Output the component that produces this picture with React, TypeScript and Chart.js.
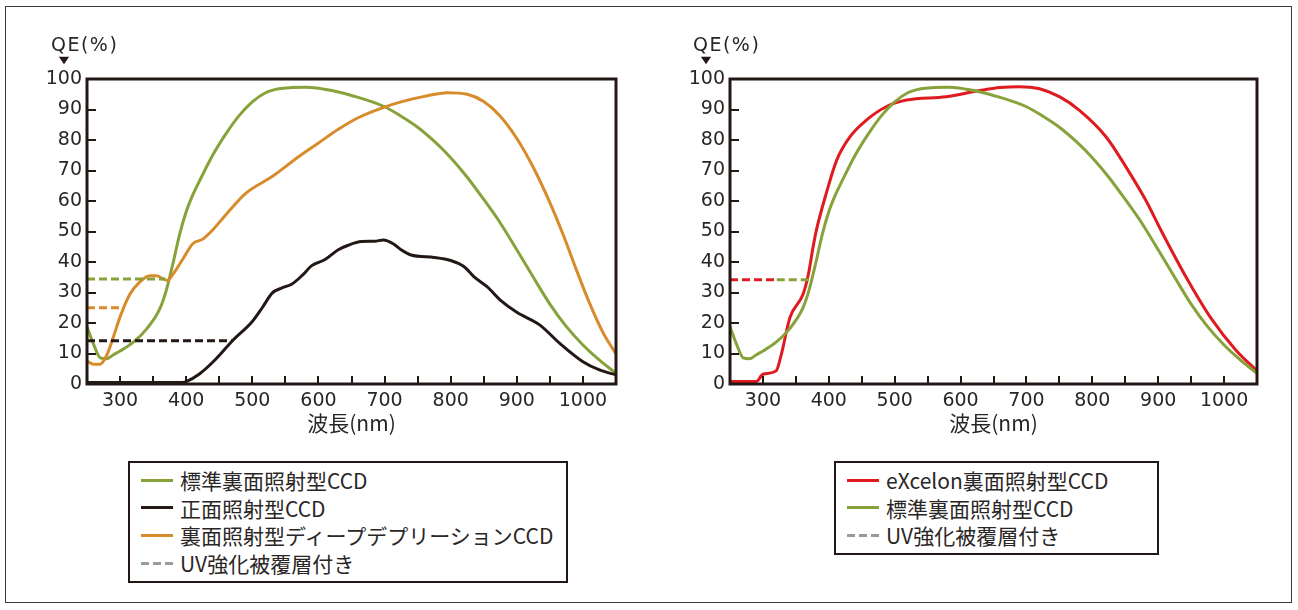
import React, { useEffect, useRef } from "react";
import { Chart, registerables } from "chart.js";
Chart.register(...registerables);

const INK = "#231815";
const TEXT = "#2a2626";
const GREEN = "#87a23a";
const ORANGE = "#d88b2a";
const BLACK = "#231815";
const RED = "#e01b1f";
const GRAY = "#9a9a9a";

// axis ticks
const xTickLabels = [300, 400, 500, 600, 700, 800, 900, 1000];
const xTickMarks = [300, 350, 400, 450, 500, 550, 600, 650, 700, 750, 800, 850, 900, 950, 1000];
const yTickLabels = [0, 10, 20, 30, 40, 50, 60, 70, 80, 90, 100];

// 標準裏面照射型CCD
const stdWl = [250, 260, 270, 280, 290, 300, 320, 340, 360, 370, 380, 390, 400, 410, 420, 440, 460, 480, 500, 520, 540, 560, 580, 600, 620, 650, 700, 725, 750, 775, 800, 825, 850, 875, 900, 925, 950, 975, 1000, 1025, 1050];
const stdQE = [18.8, 13, 8.6, 8.3, 9.6, 10.8, 13.7, 18, 24.6, 30.8, 39.5, 49, 56.5, 62, 66.5, 75, 82, 88, 92.5, 95.5, 96.8, 97.2, 97.3, 97, 96.2, 94.6, 90.9, 87.8, 84.2, 79.6, 74.2, 67.8, 60.5, 52.8, 44, 35, 26.2, 18.8, 12.8, 7.8, 3.5];

// 正面照射型CCD
const frontWl = [250, 300, 350, 395, 400, 420, 445, 470, 500, 515, 530, 545, 560, 575, 590, 610, 630, 645, 665, 685, 698, 713, 725, 740, 775, 800, 820, 835, 855, 875, 900, 935, 965, 1000, 1025, 1050];
const frontQE = [0.5, 0.5, 0.5, 0.5, 0.8, 3.3, 8.2, 14.2, 20.5, 25, 29.8, 31.5, 32.8, 35.5, 38.8, 40.8, 44, 45.5, 46.7, 46.8, 47.2, 46, 44, 42.3, 41.5, 40.5, 38.5, 35.2, 31.9, 27.5, 23.5, 19.3, 13.3, 7.3, 4.6, 3];

// 裏面照射型ディープデプリーションCCD
const deepWl = [250, 260, 270, 280, 290, 300, 315, 330, 345, 355, 365, 372, 380, 395, 410, 425, 440, 460, 490, 530, 570, 600, 630, 660, 700, 725, 760, 795, 825, 850, 875, 900, 925, 950, 970, 990, 1010, 1030, 1050];
const deepQE = [7.5, 6.5, 6.5, 9.5, 15.5, 22, 29.5, 33.5, 35.5, 35.5, 34.5, 34, 36, 41, 46, 47.5, 50.5, 55.5, 62.5, 68, 74.5, 79, 83.5, 87.3, 90.8, 92.5, 94.3, 95.5, 95, 92.6, 87.8, 80.5, 71, 59.5, 49, 37.5, 26.5, 17, 9.8];

// eXcelon裏面照射型CCD
const excelonWl = [250, 290, 300, 320, 328, 341, 361, 369, 376, 381, 396, 412, 432, 457, 487, 518, 578, 629, 660, 689, 720, 750, 780, 821, 851, 881, 904, 942, 982, 1018, 1050];
const excelonQE = [0.8, 0.8, 3.2, 4.3, 9.8, 21.8, 29.5, 36, 44.8, 50.3, 62.4, 73.4, 81, 86.5, 90.9, 93.1, 94.2, 96.2, 97.2, 97.5, 96.8, 94.2, 89.8, 81, 71.2, 60.3, 50.5, 35.2, 21, 11.1, 4.3];

// UV強化被覆層付き (dashed levels)
const uvStdWl = [250, 368];
const uvStdQE = [34.4, 34.4];
const uvDeepWl = [250, 304];
const uvDeepQE = [25, 25];
const uvFrontWl = [250, 470];
const uvFrontQE = [14.2, 14.2];
const uvExcelonWl = [250, 321];
const uvExcelonQE = [34.2, 34.2];
const uvStdRightWl = [321, 372];
const uvStdRightQE = [34.2, 34.2];

const pts = (xs: number[], ys: number[]) => xs.map((x, i) => ({ x, y: ys[i] }));

const solid = (label: string, xs: number[], ys: number[], color: string) => ({
  label,
  data: pts(xs, ys),
  borderColor: color,
  borderWidth: 3,
  pointRadius: 0,
  cubicInterpolationMode: "monotone" as const,
  fill: false,
});
const dashed = (label: string, xs: number[], ys: number[], color: string) => ({
  label,
  data: pts(xs, ys),
  borderColor: color,
  borderWidth: 3,
  borderDash: [8, 4],
  pointRadius: 0,
  tension: 0,
  fill: false,
});

const framePlugin = {
  id: "frame",
  afterDatasetsDraw(chart: any) {
    const { ctx, chartArea: a, scales } = chart;
    ctx.save();
    ctx.strokeStyle = INK;
    ctx.lineWidth = 3;
    ctx.strokeRect(a.left, a.top, a.right - a.left, a.bottom - a.top);
    ctx.lineWidth = 2;
    ctx.beginPath();
    xTickMarks.forEach((v) => {
      const px = Math.round(scales.x.getPixelForValue(v));
      ctx.moveTo(px, a.bottom);
      ctx.lineTo(px, a.bottom - 8);
    });
    yTickLabels.forEach((v) => {
      const py = Math.round(scales.y.getPixelForValue(v));
      ctx.moveTo(a.left, py);
      ctx.lineTo(a.left + 9, py);
    });
    ctx.stroke();
    ctx.restore();
  },
};

function QEChart({ left, yWidth, padRight, datasets }: { left: number; yWidth: number; padRight: number; datasets: any[] }) {
  const ref = useRef<HTMLCanvasElement | null>(null);
  useEffect(() => {
    if (!ref.current) return;
    const chart = new Chart(ref.current, {
      type: "line",
      data: { datasets },
      plugins: [framePlugin],
      options: {
        animation: false,
        responsive: false,
        maintainAspectRatio: false,
        layout: { padding: { left: 0, top: 79, right: padRight, bottom: 0 } },
        plugins: { legend: { display: false }, tooltip: { enabled: false } },
        scales: {
          x: {
            type: "linear",
            min: 250,
            max: 1050,
            afterBuildTicks: (s: any) => {
              s.ticks = xTickLabels.map((v) => ({ value: v }));
            },
            afterFit: (s: any) => {
              s.height = 66;
            },
            grid: { display: false, drawTicks: false },
            border: { display: false },
            ticks: {
              padding: 6,
              autoSkip: false,
              maxRotation: 0,
              color: TEXT,
              font: { family: "DejaVu Sans", size: 19 },
              callback: (v: any) => String(v),
            },
            title: {
              display: true,
              text: "波長(nm)",
              color: TEXT,
              font: { family: "Noto Sans CJK JP", size: 21 },
              padding: { top: 0, bottom: 14 },
            },
          },
          y: {
            type: "linear",
            min: 0,
            max: 100,
            afterBuildTicks: (s: any) => {
              s.ticks = yTickLabels.map((v) => ({ value: v }));
            },
            afterFit: (s: any) => {
              s.width = yWidth;
            },
            grid: { display: false, drawTicks: false },
            border: { display: false },
            ticks: {
              padding: 5,
              color: TEXT,
              font: { family: "DejaVu Sans", size: 19 },
              callback: (v: any) => String(v),
            },
          },
        },
      } as any,
    });
    return () => chart.destroy();
  }, []);
  return (
    <canvas
      ref={ref}
      width={649}
      height={450}
      style={{ position: "absolute", left, top: 0, width: 649, height: 450 }}
    />
  );
}

const leftDatasets = [
  dashed("UV std", uvStdWl, uvStdQE, GREEN),
  dashed("UV deep", uvDeepWl, uvDeepQE, ORANGE),
  dashed("UV front", uvFrontWl, uvFrontQE, BLACK),
  solid("正面照射型CCD", frontWl, frontQE, BLACK),
  solid("裏面照射型ディープデプリーションCCD", deepWl, deepQE, ORANGE),
  solid("標準裏面照射型CCD", stdWl, stdQE, GREEN),
];
const rightDatasets = [
  dashed("UV eXcelon", uvExcelonWl, uvExcelonQE, RED),
  dashed("UV std", uvStdRightWl, uvStdRightQE, GREEN),
  solid("標準裏面照射型CCD", stdWl, stdQE, GREEN),
  solid("eXcelon裏面照射型CCD", excelonWl, excelonQE, RED),
];

const leftLegend = [
  { text: "標準裏面照射型CCD", color: GREEN, dash: false },
  { text: "正面照射型CCD", color: BLACK, dash: false },
  { text: "裏面照射型ディープデプリーションCCD", color: ORANGE, dash: false },
  { text: "UV強化被覆層付き", color: GRAY, dash: true },
];
const rightLegend = [
  { text: "eXcelon裏面照射型CCD", color: RED, dash: false },
  { text: "標準裏面照射型CCD", color: GREEN, dash: false },
  { text: "UV強化被覆層付き", color: GRAY, dash: true },
];

function Legend({ left, top, width, height, items }: { left: number; top: number; width: number; height: number; items: any[] }) {
  return (
    <div
      style={{
        position: "absolute",
        left,
        top,
        width,
        height,
        boxSizing: "border-box",
        border: `2px solid ${INK}`,
        background: "#fff",
      }}
    >
      {items.map((it, i) => (
        <div
          key={i}
          style={{
            position: "absolute",
            left: 11,
            top: 4 + i * 27.7,
            height: 26,
            display: "flex",
            alignItems: "center",
            whiteSpace: "nowrap",
          }}
        >
          <div
            style={{
              width: 32,
              height: 3,
              background: it.dash
                ? `repeating-linear-gradient(to right, ${it.color} 0 8px, transparent 8px 12px)`
                : it.color,
              marginRight: 7,
            }}
          />
          <span
            style={{
              fontFamily: "'Noto Sans CJK JP', sans-serif",
              fontSize: 21,
              lineHeight: "26px",
              color: TEXT,
            }}
          >
            {it.text}
          </span>
        </div>
      ))}
    </div>
  );
}

function AxisLabel({ left }: { left: number }) {
  return (
    <>
      <div
        style={{
          position: "absolute",
          left,
          top: 33,
          fontFamily: "'DejaVu Sans', sans-serif",
          fontSize: 19,
          lineHeight: "22px",
          letterSpacing: "1.5px",
          color: TEXT,
          whiteSpace: "nowrap",
        }}
      >
        QE(%)
      </div>
      <div
        style={{
          position: "absolute",
          left: left + 8,
          top: 52,
          fontFamily: "'DejaVu Sans', sans-serif",
          fontSize: 13,
          lineHeight: "16px",
          color: INK,
          transform: "scale(1.05, 0.75)",
        }}
      >
        ▼
      </div>
    </>
  );
}

export default function App() {
  return (
    <div style={{ position: "absolute", left: 0, top: 0, width: 1298, height: 610, background: "#fff", overflow: "hidden" }}>
      <div
        style={{
          position: "absolute",
          left: 5,
          top: 6,
          width: 1287,
          height: 597,
          border: "1px solid #3a3a3a",
          boxSizing: "border-box",
        }}
      />
      <QEChart left={0} yWidth={87} padRight={33} datasets={leftDatasets} />
      <QEChart left={649} yWidth={81} padRight={41} datasets={rightDatasets} />
      <AxisLabel left={51} />
      <AxisLabel left={693} />
      <Legend left={128} top={461} width={440} height={122} items={leftLegend} />
      <Legend left={834} top={461} width={325} height={94} items={rightLegend} />
    </div>
  );
}
